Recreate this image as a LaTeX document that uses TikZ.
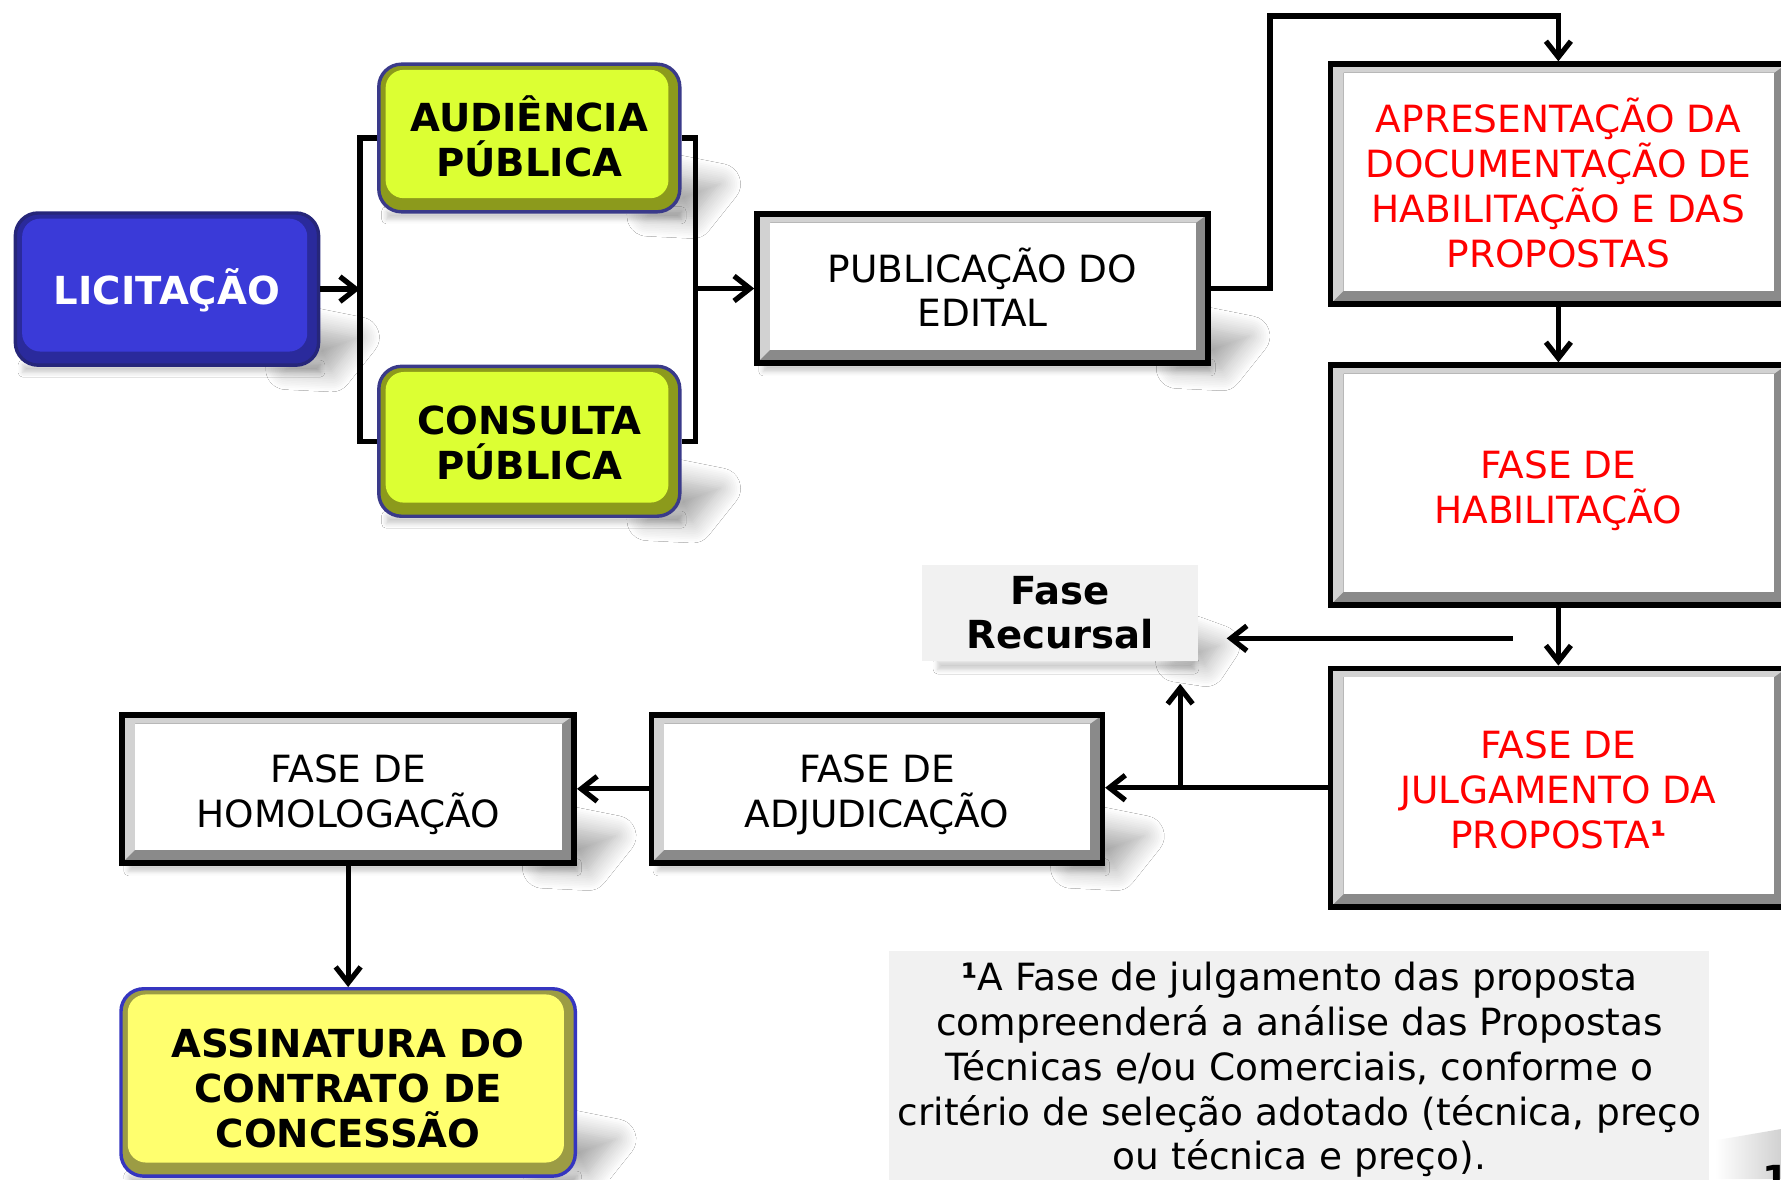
\documentclass[tikz,border=0pt]{standalone}
\usepackage{fontspec}
\setmainfont{DejaVu Sans}
\usetikzlibrary{arrows.meta,calc,shadows.blur}
\pgfdeclarelayer{background}
\pgfsetlayers{background,main}
\definecolor{bevlight}{HTML}{D2D2D2}
\definecolor{bevdark}{HTML}{8A8A8A}
\definecolor{licfill}{HTML}{3A3AD8}
\definecolor{licdark}{HTML}{2A2A9C}
\definecolor{licedge}{HTML}{26267A}
\definecolor{grnfill}{HTML}{DCFF33}
\definecolor{grndark}{HTML}{8C9A1C}
\definecolor{grnedge}{HTML}{3A3A8A}
\definecolor{ylwfill}{HTML}{FFFF6E}
\definecolor{ylwdark}{HTML}{9C9C44}
\definecolor{ylwedge}{HTML}{3535C0}
\definecolor{notebg}{HTML}{F1F1F1}
\definecolor{redtxt}{HTML}{FF0000}
\newcommand\normtxt{\fontsize{16.5pt}{19.7pt}\selectfont}
\newcommand\boldtxt{\fontsize{17pt}{19.7pt}\selectfont\bfseries}
\newcommand\tbeg{\rule{0pt}{18pt}}
\newcommand\tend{\rule[-4pt]{0pt}{4pt}}
\tikzset{
 bevbox/.style={rectangle, draw=black, line width=2.5pt, fill=white, inner sep=0pt,
  align=center, font=\normtxt,
  path picture={
   \fill[bevdark] (path picture bounding box.south west) rectangle (path picture bounding box.north east);
   \fill[bevlight] (path picture bounding box.south west)
     -- ([shift={(5.75pt,5.75pt)}]path picture bounding box.south west)
     -- ([shift={(5.75pt,-3.75pt)}]path picture bounding box.north west)
     -- ([shift={(-5.25pt,-3.75pt)}]path picture bounding box.north east)
     -- (path picture bounding box.north east)
     -- (path picture bounding box.north west) -- cycle;
   \fill[white] ([shift={(5.75pt,5.75pt)}]path picture bounding box.south west)
     rectangle ([shift={(-5.25pt,-3.75pt)}]path picture bounding box.north east);
  }},
 rbox/.style n args={3}{rectangle, rounded corners=10pt, draw=#1, line width=1.5pt,
  fill=#3, inner sep=0pt, align=center, font=\boldtxt,
  path picture={
   \fill[#2, rounded corners=8pt] ([shift={(3pt,6pt)}]path picture bounding box.south west)
     rectangle ([shift={(-5pt,-2.5pt)}]path picture bounding box.north east);
  }},
 licbox/.style={rbox={licedge}{licfill}{licdark}, text=white},
 grnbox/.style={rbox={grnedge}{grnfill}{grndark}},
 ylwbox/.style={rbox={ylwedge}{ylwfill}{ylwdark}},
 notebox/.style={rectangle, fill=notebg, inner sep=0pt, align=center},
 arr/.style={-{Straight Barb[length=7pt,width=11pt]}, line width=2.3pt},
 link/.style={line width=2.3pt},
 streaksh/.style={blur shadow={shadow xshift=0pt,shadow yshift=0pt,shadow blur radius=9pt,shadow blur steps=12,shadow opacity=34}},
 undersh/.style={blur shadow={shadow xshift=0pt,shadow yshift=0pt,shadow blur radius=2pt,shadow blur steps=4,shadow opacity=20}},
}
% soft cast shadow at the lower right corner of a box
\newcommand\boxstreak[2][0]{%
 \path[streaksh] ([shift={(-30,2-#1)}]#2.south east) -- ([shift={(-6,-34-#1)}]#2.south east)
   -- ([shift={(34,-26-#1)}]#2.south east) -- ([shift={(10,4-#1)}]#2.south east) -- cycle;
 \path[undersh] ([shift={(8,-2)}]#2.south west) rectangle ([shift={(0,5)}]#2.south east);}
\begin{document}
\begin{tikzpicture}[x=0.5pt,y=-0.5pt]
\useasboundingbox (0,0) rectangle (1568,1038);
\begin{pgfonlayer}{background}
\fill[white] (0,0) rectangle (1568,1038);
\end{pgfonlayer}

% nodes
\node[licbox, minimum width=133.5pt, minimum height=67pt] (lic) at (147,254.5) {\tbeg LICITAÇÃO\tend};
\node[grnbox, minimum width=132.5pt, minimum height=65pt] (aud) at (466,121.5) {\tbeg AUDIÊNCIA\\PÚBLICA\tend};
\node[grnbox, minimum width=132.5pt, minimum height=66pt] (cons) at (466,388.5) {\tbeg CONSULTA\\PÚBLICA\tend};
\node[bevbox, minimum width=198.5pt, minimum height=65.5pt] (pub) at (865,254) {\tbeg PUBLICAÇÃO DO\\EDITAL\tend};
\node[bevbox, text=redtxt, minimum width=200.5pt, minimum height=105.5pt] (apr) at (1372,162)
  {\tbeg APRESENTAÇÃO DA\\DOCUMENTAÇÃO DE\\HABILITAÇÃO E DAS\\PROPOSTAS\tend};
\node[bevbox, text=redtxt, minimum width=200.5pt, minimum height=105.5pt] (hab) at (1372,427)
  {\tbeg FASE DE\\HABILITAÇÃO\tend};
\node[bevbox, text=redtxt, minimum width=200.5pt, minimum height=105pt] (jul) at (1372,693.5)
  {\tbeg FASE DE\\JULGAMENTO DA\\PROPOSTA{\bfseries ¹}\tend};
\node[bevbox, minimum width=198.5pt, minimum height=65pt] (adj) at (772,694.5) {\tbeg FASE DE\\ADJUDICAÇÃO\tend};
\node[bevbox, minimum width=199pt, minimum height=65pt] (hom) at (306.5,694.5) {\tbeg FASE DE\\HOMOLOGAÇÃO\tend};
\node[ylwbox, minimum width=200pt, minimum height=82.5pt] (ass) at (306.5,953) {\rule{0pt}{21.5pt}ASSINATURA DO\\CONTRATO DE\\CONCESSÃO\tend};
\node[notebox, font=\boldtxt, minimum width=121.5pt, minimum height=42.5pt] (rec) at (933.5,539.5) {Fase\\Recursal};
\node[notebox, font=\normtxt, minimum width=361pt, minimum height=105pt] (foot) at (1144,942)
  {{\bfseries ¹}A Fase de julgamento das proposta\\compreenderá a análise das Propostas\\Técnicas e/ou Comerciais, conforme o\\critério de seleção adotado (técnica, preço\\ou técnica e preço).};

% corner decoration and page number
\shade[left color=white, right color=black!18] (1510,1004) -- (1568,994) -- (1568,1038) -- (1510,1038) -- cycle;
\node[anchor=north west, inner sep=0pt, font=\boldtxt] (pg) at (1551,1026) {1};

% connectors
\coordinate (lbar) at ($(aud.west)+(-15,0)$);
\coordinate (rbar) at ($(aud.east)+(12,0)$);
\draw[link] (aud.west) -- (lbar) |- (cons.west);
\draw[arr] (lic.east) -- (lic.east -| lbar);
\draw[link] (aud.east) -- (rbar) |- (cons.east);
\draw[arr] (pub.west -| rbar) -- (pub.west);
\coordinate (elbow) at (1118,14);
\draw[arr] (pub.east) -| (elbow) -| (apr.north);
\draw[arr] (apr.south) -- (hab.north);
\draw[arr] (hab.south) -- (jul.north);
\coordinate (rs) at (1332,562);
\coordinate (re) at (1080,562);
\draw[arr] (rs) -- (re);
\coordinate (ut) at (1039,602);
\draw[arr] (ut |- jul.west) -- (ut);
\draw[arr] (jul.west) -- (jul.west -| adj.east);
\draw[arr] (adj.west) -- (adj.west -| hom.east);
\draw[arr] (hom.south) -- (ass.north);

% shadows
\begin{pgfonlayer}{background}
\boxstreak{lic}
\boxstreak{aud}
\boxstreak{cons}
\boxstreak{pub}
\boxstreak{adj}
\boxstreak{hom}
\boxstreak[8]{ass}
\path[streaksh] ([shift={(-20,0)}]rec.south east) -- ([shift={(-4,-22)}]rec.south east)
   -- ([shift={(18,-14)}]rec.south east) -- ([shift={(6,4)}]rec.south east) -- cycle;
\path[undersh] ([shift={(14,0)}]rec.south west) rectangle ([shift={(-4,7)}]rec.south east);
\end{pgfonlayer}
\end{tikzpicture}
\end{document}
